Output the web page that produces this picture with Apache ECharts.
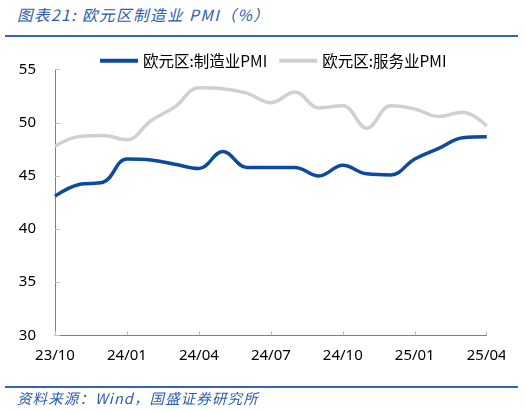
<!DOCTYPE html>
<html>
<head>
<meta charset="utf-8">
<script src="https://cdn.jsdelivr.net/npm/echarts@6/dist/echarts.min.js"></script>
<style>
html,body{margin:0;padding:0;background:#fff;width:525px;height:411px;overflow:hidden;position:relative;}
#chart{position:absolute;left:0;top:0;width:505px;height:411px;}
.t{position:absolute;font-family:"Noto Sans CJK SC","Noto Sans",sans-serif;font-style:italic;color:#2b5caa;white-space:nowrap;}
.hl{position:absolute;left:5px;width:513px;height:2px;background:#3563ad;}
</style>
</head>
<body>
<div class="t" id="title" style="left:17px;top:4px;font-size:15.5px;line-height:20px;letter-spacing:1.5px;">图表21:&nbsp;欧元区制造业 PMI（%）</div>
<div class="hl" style="top:35px;"></div>
<div id="chart"></div>
<div class="hl" style="top:386px;"></div>
<div class="t" id="src" style="left:17px;top:389px;font-size:14.5px;line-height:18px;letter-spacing:1.1px;">资料来源：Wind，国盛证券研究所</div>
<script>
const categories = ['23/10','23/11','23/12','24/01','24/02','24/03','24/04','24/05','24/06','24/07','24/08','24/09','24/10','24/11','24/12','25/01','25/02','25/03','25/04'];
const manufacturing = [43.1,44.2,44.4,46.6,46.5,46.1,45.7,47.3,45.8,45.8,45.8,45.0,46.0,45.2,45.1,46.6,47.6,48.6,48.7];
const services = [47.8,48.7,48.8,48.4,50.2,51.5,53.3,53.2,52.8,51.9,52.9,51.4,51.6,49.5,51.6,51.3,50.6,51.0,49.7];
const yTicks = {min:30, max:55, interval:5};
const seriesNames = ['欧元区:制造业PMI','欧元区:服务业PMI'];

const chart = echarts.init(document.getElementById('chart'));
chart.setOption({
  animation:false,
  legend:{
    left:100, top:53, padding:0,
    icon:'rect', itemWidth:38, itemHeight:4, itemGap:12,
    textStyle:{fontSize:15.5, color:'#000', fontFamily:'Noto Sans CJK SC'},
    data:seriesNames
  },
  grid:{left:55, right:18.3, top:69.7, bottom:75.7, containLabel:false, outerBoundsMode:'none'},
  xAxis:{
    type:'category', data:categories, boundaryGap:false,
    axisLine:{lineStyle:{color:'#7f7f7f', width:1}},
    axisTick:{inside:true, length:4, interval:2, lineStyle:{color:'#bfbfbf'}},
    axisLabel:{interval:2, fontSize:15, color:'#000', fontFamily:'Noto Sans', margin:13, hideOverlap:false},
    splitLine:{show:false}
  },
  yAxis:{
    type:'value', min:yTicks.min, max:yTicks.max, interval:yTicks.interval,
    axisLine:{show:true, lineStyle:{color:'#7f7f7f', width:1}},
    axisTick:{show:true, inside:true, length:5, lineStyle:{color:'#bfbfbf'}},
    axisLabel:{fontSize:15, color:'#000', fontFamily:'Noto Sans', margin:19},
    splitLine:{show:false}
  },
  series:[
    {name:seriesNames[0], type:'line', data:manufacturing, smooth:0.4, symbol:'none',
     lineStyle:{color:'#0b4a9e', width:3.5}, itemStyle:{color:'#0b4a9e'}},
    {name:seriesNames[1], type:'line', data:services, smooth:0.4, symbol:'none',
     lineStyle:{color:'#d0d0d0', width:3.5}, itemStyle:{color:'#d0d0d0'}}
  ]
});
</script>
</body>
</html>
